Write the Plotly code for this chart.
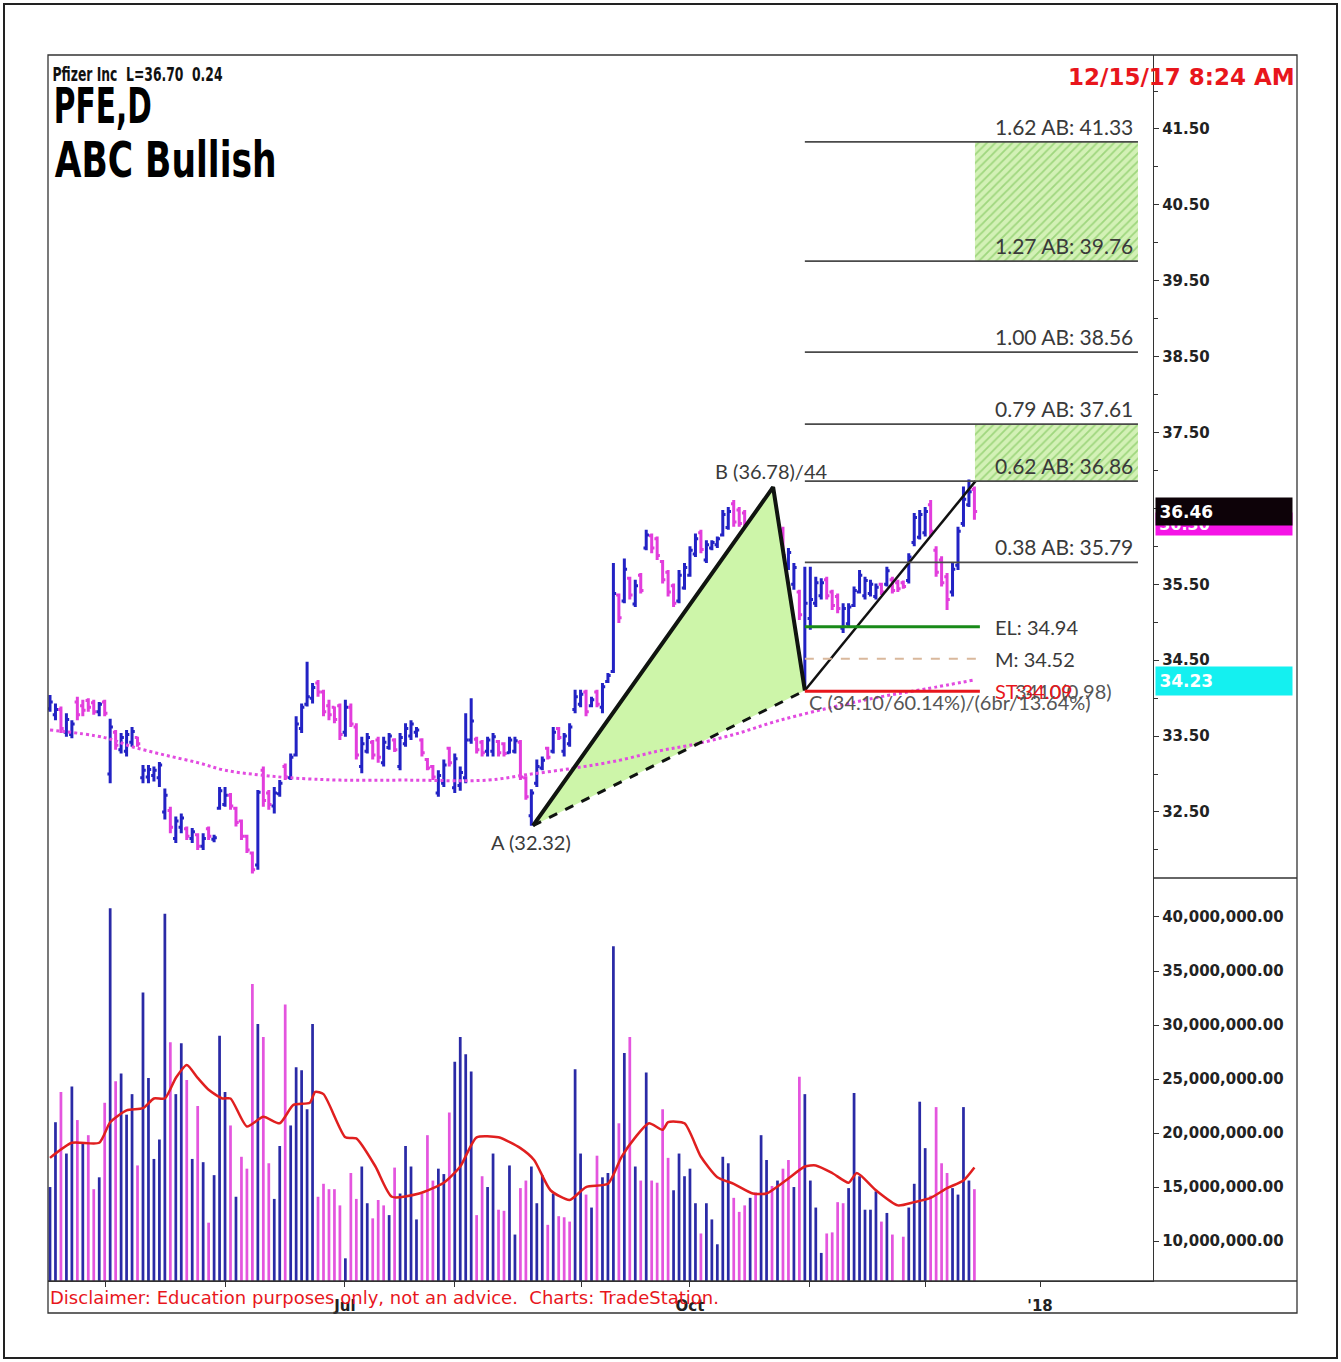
import plotly.graph_objects as go

# ---------------- data ----------------
bar_index = list(range(170))

opens = [33.86,33.78,33.85,33.55,33.52,33.95,33.90,33.97,33.94,33.82,
 33.95,33.00,33.55,33.32,33.30,33.42,33.48,32.95,32.96,32.98,
 32.95,32.50,32.52,32.15,32.30,32.28,32.15,32.20,32.05,32.28,
 32.14,32.55,32.60,32.72,32.55,32.38,32.18,31.96,31.80,33.05,
 32.75,32.58,32.74,33.10,32.95,33.25,33.60,33.92,34.00,34.20,
 34.08,33.90,33.88,33.90,33.55,33.88,33.62,33.10,33.30,33.42,
 33.45,33.15,33.35,33.45,33.10,33.40,33.50,33.55,33.45,33.19,
 33.10,32.75,32.88,33.34,32.82,32.85,32.95,33.45,33.46,33.42,
 33.30,33.30,33.43,33.40,33.28,33.30,33.42,32.95,32.45,32.88,
 33.08,33.34,33.30,33.60,33.30,33.40,33.85,33.92,34.08,33.90,
 34.08,33.88,34.22,34.35,35.36,35.28,35.58,35.24,35.62,35.98,
 36.14,36.10,35.80,35.66,35.48,35.28,35.45,35.62,35.90,36.18,
 35.82,35.98,36.02,36.15,36.25,36.56,36.48,36.44,35.82,36.25,
 35.95,36.18,36.40,36.35,36.22,35.72,35.50,35.40,34.20,35.05,
 35.25,35.35,35.56,35.40,35.34,34.92,34.98,35.22,35.40,35.35,
 35.38,35.34,35.50,35.50,35.56,35.52,35.52,35.55,36.05,36.12,
 36.18,36.55,35.95,35.82,35.60,35.40,35.75,36.30,36.55,36.75]

highs = [34.04,33.93,33.89,33.80,33.71,34.02,33.98,34.00,33.98,33.95,
 33.98,33.73,33.58,33.54,33.58,33.62,33.49,33.12,33.12,33.10,
 33.16,32.81,32.57,32.44,32.48,32.31,32.29,32.22,32.22,32.31,
 32.20,32.83,32.83,32.75,32.57,32.40,32.20,31.98,32.79,33.10,
 32.79,32.83,32.92,33.14,33.27,33.76,33.93,34.48,34.20,34.24,
 34.11,33.98,33.89,33.93,33.98,33.93,33.67,33.49,33.54,33.45,
 33.49,33.49,33.54,33.47,33.54,33.67,33.71,33.62,33.47,33.21,
 33.12,33.05,33.19,33.36,33.27,33.10,33.80,34.00,33.49,33.45,
 33.49,33.54,33.45,33.42,33.49,33.49,33.45,32.97,32.80,33.19,
 33.23,33.36,33.62,33.62,33.54,33.67,34.11,34.11,34.11,34.02,
 34.11,34.20,34.33,35.78,35.38,35.84,35.60,35.56,35.65,36.22,
 36.17,36.13,35.82,35.69,35.51,35.69,35.78,36.00,36.17,36.22,
 36.08,36.08,36.13,36.48,36.52,36.61,36.52,36.48,36.35,36.26,
 36.44,36.48,36.78,36.39,36.26,35.98,35.78,35.43,35.73,35.73,
 35.60,35.58,35.60,35.43,35.38,35.25,35.25,35.47,35.69,35.60,
 35.56,35.51,35.52,35.73,35.60,35.56,35.55,35.91,36.44,36.48,
 36.52,36.61,36.00,35.87,35.65,35.78,36.26,36.79,36.88,36.79]

lows = [33.82,33.71,33.54,33.49,33.47,33.71,33.76,33.82,33.78,33.76,
 33.76,32.88,33.32,33.27,33.23,33.36,33.36,32.88,32.88,32.90,
 32.83,32.40,32.22,32.09,32.22,32.13,32.09,32.00,32.00,32.13,
 32.10,32.53,32.57,32.53,32.31,32.13,31.96,31.69,31.74,32.57,
 32.53,32.48,32.70,32.92,32.92,33.23,33.54,33.89,33.93,34.02,
 33.76,33.71,33.67,33.45,33.49,33.62,33.19,33.01,33.27,33.19,
 33.15,33.10,33.32,33.29,33.05,33.36,33.45,33.48,33.23,33.05,
 32.92,32.70,32.83,33.10,32.75,32.78,32.88,33.40,33.27,33.23,
 33.23,33.23,33.23,33.23,33.27,33.27,32.92,32.66,32.32,32.83,
 33.05,33.19,33.27,33.45,33.23,33.36,33.80,33.88,33.76,33.88,
 33.88,33.80,34.20,34.33,34.99,35.25,35.30,35.20,35.38,35.95,
 35.91,35.82,35.51,35.34,35.20,35.25,35.43,35.60,35.86,35.91,
 35.78,35.95,35.98,36.13,36.22,36.26,36.26,36.13,35.78,35.82,
 35.91,36.13,36.35,36.00,35.82,35.69,35.43,35.03,34.10,34.90,
 35.20,35.30,35.30,35.16,35.12,34.86,34.94,35.20,35.38,35.30,
 35.34,35.30,35.36,35.47,35.38,35.40,35.44,35.51,36.00,36.09,
 36.13,36.13,35.60,35.47,35.16,35.34,35.69,36.26,36.52,36.35]

closes = [33.95,33.85,33.60,33.72,33.66,33.78,33.84,33.88,33.82,33.92,
 33.80,33.62,33.38,33.48,33.52,33.56,33.40,33.05,33.06,33.05,
 33.12,32.72,32.30,32.38,32.42,32.18,32.24,32.05,32.15,32.18,
 32.16,32.78,32.72,32.58,32.36,32.18,32.00,31.74,32.76,32.65,
 32.60,32.75,32.88,32.96,33.22,33.66,33.88,34.02,34.14,34.08,
 33.82,33.78,33.72,33.52,33.88,33.66,33.25,33.40,33.48,33.25,
 33.22,33.42,33.50,33.32,33.48,33.60,33.66,33.58,33.28,33.08,
 32.96,32.98,33.12,33.15,33.20,33.02,33.45,33.70,33.32,33.28,
 33.45,33.49,33.28,33.27,33.45,33.44,32.96,32.70,32.75,33.10,
 33.18,33.22,33.55,33.48,33.50,33.62,34.02,34.05,33.82,33.98,
 33.92,34.15,34.30,35.38,35.06,35.70,35.36,35.48,35.42,36.15,
 35.98,35.88,35.56,35.40,35.25,35.62,35.72,35.95,36.10,35.96,
 36.02,36.05,36.10,36.42,36.46,36.32,36.30,36.18,36.25,35.88,
 36.38,36.42,36.55,36.05,35.88,35.92,35.72,35.10,35.25,35.30,
 35.52,35.52,35.35,35.22,35.18,35.18,35.20,35.42,35.62,35.55,
 35.50,35.46,35.40,35.68,35.42,35.44,35.47,35.86,36.38,36.42,
 36.46,36.20,35.66,35.52,35.30,35.70,36.20,36.62,36.72,36.46]

volume_m = [15.0,21.0,23.8,18.1,24.3,21.2,19.1,19.8,14.8,15.9,
 22.8,40.8,24.8,25.5,21.7,23.6,17.0,33.0,25.1,17.6,
 19.4,40.3,28.4,23.6,28.3,24.9,17.6,22.5,17.3,11.7,
 16.1,29.0,23.8,20.7,14.1,17.8,16.7,33.8,30.1,28.9,
 17.2,13.9,18.8,31.9,20.7,26.1,25.8,22.2,30.1,14.1,
 15.3,14.8,14.8,13.3,8.4,16.3,13.9,16.9,13.5,12.1,
 13.8,13.3,12.4,16.8,14.4,18.8,16.9,12.0,14.4,19.8,
 15.6,16.7,16.2,21.9,26.6,28.9,27.3,25.7,12.4,16.0,
 15.0,18.1,12.9,12.8,17.0,10.6,14.9,15.6,16.9,13.5,
 16.1,11.5,14.4,12.3,12.2,11.8,25.9,18.1,14.3,13.1,
 17.9,15.9,16.3,37.3,20.9,27.4,28.9,16.9,15.6,25.6,
 15.6,15.4,22.2,17.7,14.7,18.1,16.0,16.7,13.5,10.7,
 13.5,12.0,9.7,17.8,17.2,14.0,12.7,13.3,14.0,14.5,
 19.8,17.5,15.1,15.6,16.7,17.5,15.0,25.2,23.6,15.6,
 13.1,8.9,10.7,10.8,13.6,13.5,14.9,23.7,16.0,12.9,
 12.9,14.6,11.8,12.6,10.6,5.5,10.4,13.1,15.3,22.9,
 18.6,14.2,22.4,17.2,16.3,14.9,14.3,22.4,15.6,14.8]

volume_dir = ("bbpbbpbppb" "pbpbbbpbbb" "bbpbbpbpbp" "bbbpbpppbp" "pbbpbbbbbp"
              "ppppbppbbp" "ppbpbbbbpp" "pbbpbbbbpp" "bbppbbppbb" "bpbpppbbpb"
              "pbbbpbpbpb" "ppppbbbbbp" "bbbbbpppbp" "bbpbppbpbb" "bbppppbbbb"
              "bbpbpppbbb" "bppppbbbbp")

# moving average of price (read at sample bars)
ma_x = [0,10,15,21,27,32,38,44,53,65,80,87,96,104,111,117,125,133,143,152,160,169]
ma_y = [33.58,33.48,33.36,33.25,33.15,33.05,32.99,32.95,32.92,32.92,32.92,32.99,
        33.08,33.18,33.30,33.38,33.52,33.70,33.88,34.02,34.12,34.24]

# moving average of volume, millions (read at sample bars)
vma_x = [0,4,9,11,14,17,19,21,23,25,27,29,31.5,33,36,39,42,44.5,47.5,48.5,
         50,54,56,59.5,62.5,67.5,72,75,78,82,86,88.5,91.5,95,98,102,104.5,107,109.5,112,
         113,116,119,122,125,128.5,131,134.5,138,140,143,146,147.5,151,155,158,161,164,167,169]
vma_y = [17.7,19.1,19.1,21.0,22.1,22.3,23.2,23.2,25.1,26.3,25.1,24.0,23.2,23.2,20.6,21.5,20.9,22.6,22.8,23.8,
         23.6,19.6,19.5,16.9,14.1,14.4,15.4,16.9,19.6,19.6,18.6,17.5,14.7,13.8,15.0,15.3,17.8,19.6,20.9,20.3,
         21.0,20.9,17.8,15.9,15.3,14.4,14.4,15.6,16.9,17.0,16.3,15.4,16.3,14.7,13.3,13.6,14.0,14.9,15.6,16.8]

# month tick positions (bar index) and labels
month_pos = [10.2, 32.0, 53.9, 74.0, 97.1, 117.0, 138.9, 160.0, 181.0]
month_lbl = ["", "", "Jul", "", "", "Oct", "", "", "'18"]

price_ticks = [32.5, 33.5, 34.5, 35.5, 36.5, 37.5, 38.5, 39.5, 40.5, 41.5]
price_minor = [32, 33, 34, 35, 36, 37, 38, 39, 40, 41, 42]
vol_ticks = [10e6, 15e6, 20e6, 25e6, 30e6, 35e6, 40e6]

# ABC pattern
abc_x = [88.3, 132.2, 138.0]
abc_y = [32.32, 36.78, 34.10]
proj_x = [138.0, 169.2]
proj_y = [34.10, 36.86]

fib_ratio = ["1.62", "1.27", "1.00", "0.79", "0.62", "0.38"]
fib_level = [41.33, 39.76, 38.56, 37.61, 36.86, 35.79]
fib_x = [138.0, 198.9]
zones = [(39.76, 41.33), (36.86, 37.61)]
zone_x = [169.1, 198.9]

trade_names = ["EL", "M", "ST"]
trade_level = [34.94, 34.52, 34.09]
trade_x = [138.0, 170.0]

last_price = 36.46
second_tag = 36.30
ma_tag = 34.23

# ---------------- figure ----------------
W, H = 1341, 1362
PL, PR, PT, PB = 48, 1153, 55, 1281


def px(X):
    return (X - PL) / (PR - PL)


def py(Y):
    return (PB - Y) / (PB - PT)


split = py(878)

BLUE = "#2222c4"
PINK = "#e23ddc"
VBLUE = "#2a2aa6"
VPINK = "#e455de"
GRAYTXT = "#3a3a3a"
LBL = "Lato, 'Open Sans', sans-serif"
HEAD = "DejaVu Sans"

fig = go.Figure()

# ABC triangle fill
fig.add_trace(go.Scatter(x=abc_x + [abc_x[0]], y=abc_y + [abc_y[0]], fill="toself",
                         fillcolor="#cdf5a9", line=dict(width=0), mode="lines",
                         hoverinfo="skip"))

# hatched target zones
for lo, hi in zones:
    fig.add_trace(go.Scatter(x=[zone_x[0], zone_x[1], zone_x[1], zone_x[0], zone_x[0]],
                             y=[lo, lo, hi, hi, lo], fill="toself", mode="lines",
                             line=dict(width=0), fillcolor="#d3f1b6",
                             fillpattern=dict(shape="/", fgcolor="#6bbd45", bgcolor="#d3f1b6",
                                              size=6, solidity=0.3),
                             hoverinfo="skip"))

# price moving average
fig.add_trace(go.Scatter(x=ma_x, y=ma_y, mode="lines", line=dict(color="#e24be0", width=3, dash="dot",
                                                                  shape="spline"),
                         hoverinfo="skip"))

# OHLC bars
fig.add_trace(go.Ohlc(x=bar_index, open=opens, high=highs, low=lows, close=closes,
                      increasing=dict(line=dict(color=BLUE, width=3)),
                      decreasing=dict(line=dict(color=PINK, width=3)),
                      tickwidth=0.5, hoverinfo="skip"))

# ABC legs
fig.add_trace(go.Scatter(x=abc_x, y=abc_y, mode="lines", line=dict(color="#101410", width=4),
                         hoverinfo="skip"))
fig.add_trace(go.Scatter(x=[abc_x[0], abc_x[2]], y=[abc_y[0], abc_y[2]], mode="lines",
                         line=dict(color="#101410", width=3, dash="dash"), hoverinfo="skip"))
fig.add_trace(go.Scatter(x=proj_x, y=proj_y, mode="lines", line=dict(color="#111111", width=2.5),
                         hoverinfo="skip"))

# fib projection lines
for lvl in fib_level:
    fig.add_trace(go.Scatter(x=fib_x, y=[lvl, lvl], mode="lines", line=dict(color="#4a4a4a", width=1.8),
                             hoverinfo="skip"))

# trade levels
trade_style = [dict(color="#188a18", width=3), dict(color="#d9b89c", width=2, dash="dash"),
               dict(color="#e8161c", width=3)]
for lvl, sty in zip(trade_level, trade_style):
    fig.add_trace(go.Scatter(x=trade_x, y=[lvl, lvl], mode="lines", line=sty, hoverinfo="skip"))

# volume
vol = [v * 1e6 for v in volume_m]
vcol = [VBLUE if d == "b" else VPINK for d in volume_dir]
fig.add_trace(go.Bar(x=bar_index, y=vol, marker=dict(color=vcol, line=dict(width=0)), width=0.5,
                     yaxis="y2", hoverinfo="skip"))
fig.add_trace(go.Scatter(x=vma_x, y=[v * 1e6 for v in vma_y], mode="lines", yaxis="y2",
                         line=dict(color="#e01f1f", width=2.5, shape="spline", smoothing=0.6),
                         hoverinfo="skip"))

# ---------------- annotations ----------------
ann = []
# header (condensed afterwards with SVG textLength)
ann.append(dict(x=px(137), y=py(74), xref="paper", yref="paper", xanchor="center", yanchor="middle",
                text="Pfizer Inc  L=36.70  0.24", showarrow=False,
                font=dict(family=HEAD, size=20, color="#111", weight="bold")))
ann.append(dict(x=px(102), y=py(106), xref="paper", yref="paper", xanchor="center", yanchor="middle",
                text="PFE,D", showarrow=False,
                font=dict(family=HEAD, size=50, color="#000", weight="bold")))
ann.append(dict(x=px(165), y=py(160), xref="paper", yref="paper", xanchor="center", yanchor="middle",
                text="ABC Bullish", showarrow=False,
                font=dict(family=HEAD, size=50, color="#000", weight="bold")))
ann.append(dict(x=px(1297), y=py(77), xref="paper", yref="paper", xanchor="right", yanchor="middle",
                text="12/15/17 8:24 AM", showarrow=False,
                font=dict(family="DejaVu Sans", size=23, color="#e8161c", weight="bold")))
ann.append(dict(x=px(48), y=py(1297), xref="paper", yref="paper", xanchor="left", yanchor="middle",
                text="Disclaimer: Education purposes only, not an advice.\u00a0 Charts: TradeStation.",
                showarrow=False, font=dict(family="DejaVu Sans", size=18, color="#e8161c")))

# fib labels
for r, lvl in zip(fib_ratio, fib_level):
    ann.append(dict(x=fib_x[1] - 0.5, y=lvl, xref="x", yref="y", xanchor="right", yanchor="bottom",
                    yshift=1, text=f"{r} AB: {lvl:.2f}", showarrow=False,
                    font=dict(family=LBL, size=21, color=GRAYTXT)))

# trade-level labels
ann.append(dict(x=172.4, y=trade_level[0], xref="x", yref="y", xanchor="left", yanchor="middle",
                text=f"EL: {trade_level[0]:.2f}", showarrow=False,
                font=dict(family=LBL, size=20, color=GRAYTXT)))
ann.append(dict(x=172.4, y=trade_level[1], xref="x", yref="y", xanchor="left", yanchor="middle",
                text=f"M: {trade_level[1]:.2f}", showarrow=False,
                font=dict(family=LBL, size=20, color=GRAYTXT)))
ann.append(dict(x=176.0, y=trade_level[2], xref="x", yref="y", xanchor="left", yanchor="middle",
                text="3410(0.98)", showarrow=False,
                font=dict(family=LBL, size=20, color="#555")))
ann.append(dict(x=172.4, y=trade_level[2], xref="x", yref="y", xanchor="left", yanchor="middle",
                text=f"ST:{trade_level[2]:.2f}", showarrow=False,
                font=dict(family=LBL, size=20, color="#e8161c")))

# point labels
ann.append(dict(x=abc_x[0] - 0.3, y=abc_y[0], xref="x", yref="y", xanchor="center", yanchor="top",
                yshift=-2, text=f"A ({abc_y[0]:.2f})", showarrow=False,
                font=dict(family=LBL, size=20, color=GRAYTXT)))
ann.append(dict(x=121.2, y=abc_y[1], xref="x", yref="y", xanchor="left", yanchor="bottom",
                yshift=2, text=f"B ({abc_y[1]:.2f})/44", showarrow=False,
                font=dict(family=LBL, size=20, color=GRAYTXT)))
ann.append(dict(x=abc_x[2] + 0.4, y=abc_y[2], xref="x", yref="y", xanchor="left", yanchor="top",
                yshift=3, text=f"C ({abc_y[2]:.2f}/60.14%)/(6br/13.64%)", showarrow=False,
                font=dict(family=LBL, size=20, color="#555")))

# price tags on the right axis
ann.append(dict(x=px(1155), y=second_tag, xref="paper", yref="y", xanchor="left", yanchor="middle",
                text=f"\u2009{second_tag:.2f}", showarrow=False, bgcolor="#f514e6", width=136, height=22,
                align="left", borderpad=0, font=dict(family="DejaVu Sans", size=16, color="white",
                                                     weight="bold")))
ann.append(dict(x=px(1155), y=last_price, xref="paper", yref="y", xanchor="left", yanchor="middle",
                text=f"\u2009{last_price:.2f}", showarrow=False, bgcolor="#0d0208", width=136, height=27,
                align="left", borderpad=0, font=dict(family="DejaVu Sans", size=17, color="white",
                                                     weight="bold")))
ann.append(dict(x=px(1155), y=ma_tag, xref="paper", yref="y", xanchor="left", yanchor="middle",
                text=f"\u2009{ma_tag:.2f}", showarrow=False, bgcolor="#14f0f0", width=136, height=28,
                align="left", borderpad=0, font=dict(family="DejaVu Sans", size=17, color="white",
                                                     weight="bold")))

# ---------------- frame shapes ----------------
shapes = [
    dict(type="rect", xref="paper", yref="paper", x0=px(4), x1=px(1337), y0=py(1358), y1=py(4),
         line=dict(color="#222", width=2)),
    dict(type="rect", xref="paper", yref="paper", x0=0, x1=px(1297), y0=py(1313), y1=1,
         line=dict(color="#333", width=1.3)),
    dict(type="line", xref="paper", yref="paper", x0=1, x1=px(1297), y0=split, y1=split,
         line=dict(color="#333", width=1.3)),
    dict(type="line", xref="paper", yref="paper", x0=0, x1=px(1297), y0=0, y1=0,
         line=dict(color="#333", width=1.3)),
]

tickfont = dict(family="DejaVu Sans", size=15, color="#222", weight="bold")

fig.update_layout(
    width=W, height=H,
    margin=dict(l=PL, r=W - PR, t=PT, b=H - PB, pad=0),
    plot_bgcolor="white", paper_bgcolor="white",
    showlegend=False,
    annotations=ann, shapes=shapes,
    xaxis=dict(domain=[0, 1], anchor="y2", range=[-0.366, 201.65], tickmode="array",
               tickvals=month_pos, ticktext=month_lbl, ticks="outside", ticklen=5, tickcolor="#333",
               ticklabelstandoff=6,
               showline=True, linecolor="#333", linewidth=1, showgrid=False, zeroline=False,
               rangeslider=dict(visible=False), tickfont=tickfont),
    yaxis=dict(domain=[split, 1], anchor="x", side="right", range=[31.63, 42.475], tickmode="array",
               tickvals=price_ticks, ticktext=[f"{v:.2f}" for v in price_ticks], ticks="outside",
               ticklen=5, tickcolor="#333", showline=True, linecolor="#333", linewidth=1.3,
               showgrid=False, zeroline=False, tickfont=tickfont,
               minor=dict(tickmode="array", tickvals=price_minor, ticks="outside", ticklen=4,
                          tickcolor="#333")),
    yaxis2=dict(domain=[0, split], anchor="x", side="right", range=[6.30e6, 43.61e6], tickmode="array",
                tickvals=vol_ticks, tickformat=",.2f", ticks="outside", ticklen=5, tickcolor="#333",
                showline=True, linecolor="#333", linewidth=1.3, showgrid=False, zeroline=False,
                tickfont=tickfont),
)

# condense the header texts (the reference uses a narrow display face)
condense_js = """
document.body.style.margin='0';document.body.style.overflow='hidden';
(function(){
  function squeeze(){
    document.querySelectorAll('text.annotation-text').forEach(function(t){
      var s = t.textContent;
      var w = 0;
      if (s === 'PFE,D') { w = 98; }
      else if (s === 'ABC Bullish') { w = 222; }
      else if (s.indexOf('Pfizer Inc') === 0) { w = 170; }
      if (w > 0) {
        t.setAttribute('textLength', w);
        t.setAttribute('lengthAdjust', 'spacingAndGlyphs');
      }
    });
  }
  squeeze(); setTimeout(squeeze, 50); setTimeout(squeeze, 300);
})();
"""

fig.write_html("out.html", config={"displayModeBar": False}, post_script=condense_js)
